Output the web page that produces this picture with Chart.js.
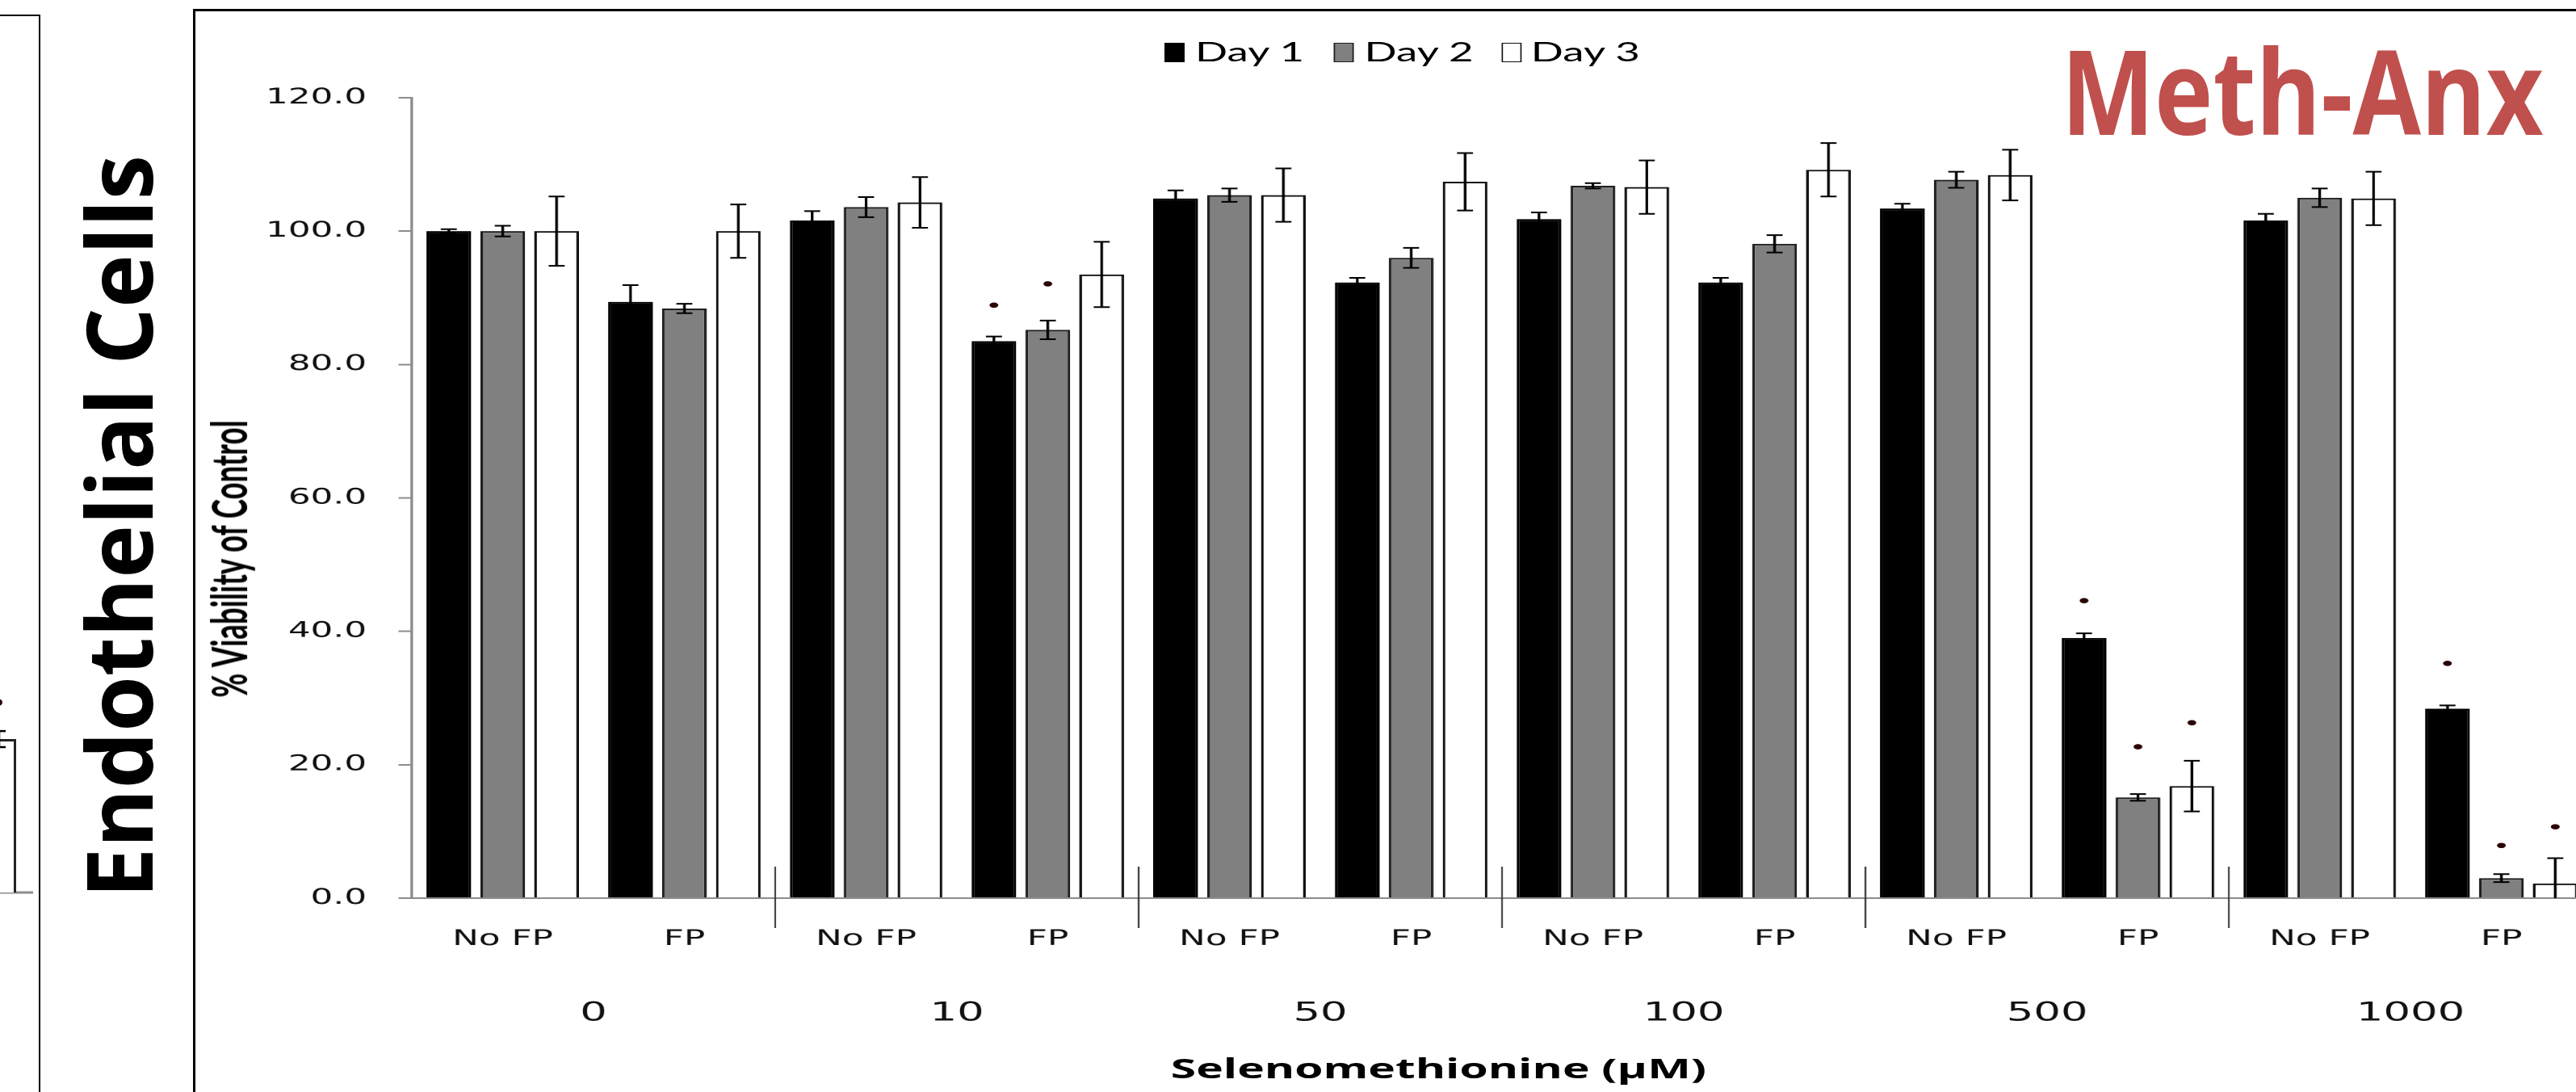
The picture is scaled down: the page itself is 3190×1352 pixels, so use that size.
<!DOCTYPE html>
<html>
<head>
<meta charset="utf-8">
<script src="https://cdn.jsdelivr.net/npm/chart.js@4.4.1/dist/chart.umd.min.js"></script>
<style>
html,body{margin:0;padding:0;width:3190px;height:1352px;overflow:hidden;background:#fff;}
#stage{position:relative;width:3190px;height:1352px;overflow:hidden;background:#fff;}
#leftFrame{position:absolute;left:-10px;top:18px;width:56px;height:1400px;border:2px solid #000;box-sizing:content-box;}
#frame{position:absolute;left:239px;top:11px;width:4000px;height:4000px;border:3px solid #000;}
#mini{position:absolute;left:-100px;top:0;width:141px;height:1352px;}
#endo{position:absolute;left:145px;top:652px;transform:translate(-50%,-50%) rotate(-90deg) scaleX(0.985);
  font-family:'Open Sans';font-weight:700;font-size:113px;line-height:1;white-space:nowrap;color:#000;}
#meth{position:absolute;left:2851px;top:110px;transform:translate(-50%,-50%) scaleX(0.845);
  font-family:'Open Sans';font-weight:700;font-size:145px;line-height:1;white-space:nowrap;color:#C0504D;}
#stretch{position:absolute;left:0;top:0;width:1960px;height:1352px;transform-origin:0 0;}
#main{position:absolute;left:0;top:0;width:1960px;height:1352px;}
.lbox{position:absolute;top:53px;width:15px;height:24px;box-sizing:border-box;}
.ltxt{position:absolute;top:48px;font-family:'Lato';font-size:32px;line-height:1;white-space:nowrap;color:#000;}
#ytitle{position:absolute;left:171.5px;top:692px;transform:translate(-50%,-50%) rotate(-90deg);
  font-family:'Lato';font-weight:700;font-size:36.5px;line-height:1;white-space:nowrap;color:#000;}
#xtitle{position:absolute;left:1079.7px;top:1322px;transform:translate(-50%,-50%);
  font-family:'Open Sans';font-weight:700;font-size:34.5px;line-height:1;white-space:nowrap;color:#000;}
</style>
</head>
<body>
<div id="stage">
  <div id="leftFrame"></div>
  <canvas id="mini" width="141" height="1352"></canvas>
  <div id="endo">Endothelial Cells</div>
  <div id="frame"></div>
  <div id="stretch">
    <canvas id="main" width="1960" height="1352"></canvas>
    <div id="legend"></div>
    <div id="ytitle"></div>
    <div id="xtitle"></div>
  </div>
  <div id="meth">Meth-Anx</div>
</div>
<script>
// ---------- data ----------
const STRETCH = 1.65;
const concentrations = ['0', '10', '50', '100', '500', '1000'];
const treatments = ['No FP', 'FP'];
const categories = ['No FP', 'FP', 'No FP', 'FP', 'No FP', 'FP', 'No FP', 'FP', 'No FP', 'FP', 'No FP', 'FP'];
const seriesNames = ['Day 1', 'Day 2', 'Day 3'];

const day1 = [100.0, 89.4, 101.6, 83.5, 104.9, 92.3, 101.8, 92.3, 103.4, 39.0, 101.6, 28.4];
const day1Err = [0.3, 2.5, 1.4, 0.7, 1.2, 0.7, 1.0, 0.7, 0.7, 0.7, 1.0, 0.5];
const day2 = [100.0, 88.4, 103.6, 85.2, 105.4, 96.0, 106.8, 98.1, 107.7, 15.1, 105.0, 3.0];
const day2Err = [0.8, 0.7, 1.5, 1.4, 1.0, 1.5, 0.4, 1.3, 1.2, 0.5, 1.4, 0.6];
const day3 = [100.0, 100.0, 104.3, 93.5, 105.4, 107.4, 106.6, 109.2, 108.4, 16.8, 104.9, 2.2];
const day3Err = [5.2, 4.0, 3.8, 4.9, 4.0, 4.3, 4.0, 4.0, 3.8, 3.8, 4.0, 3.8];

// significance marks (height at which the asterisk sits)
const day1Sig = [null, null, null, 88.9, null, null, null, null, null, 44.6, null, 35.2];
const day2Sig = [null, null, null, 92.1, null, null, null, null, null, 22.7, null, 7.9];
const day3Sig = [null, null, null, null, null, null, null, null, null, 26.3, null, 10.7];

const yMin = 0, yMax = 120, yStep = 20;
const yTitle = '% Viability of Control';
const xTitle = 'Selenomethionine (µM)';

// neighbouring panel fragment (left edge)
const leftCategories = [''];
const leftValues = [23.0];
const leftErr = [1.2];
const leftSig = [28.5];

const seriesFill = ['#000000', '#808080', '#ffffff'];
const seriesBorder = ['#000000', '#1e1e1e', '#111111'];

// ---------- plugins ----------
const barExtras = {
  id: 'barExtras',
  afterDatasetsDraw(chart) {
    const ctx = chart.ctx, ys = chart.scales.y, area = chart.chartArea;
    ctx.save();
    ctx.beginPath();
    ctx.rect(area.left - 50, area.top - 50, area.right - area.left + 100, area.bottom - area.top + 50);
    ctx.clip();
    chart.data.datasets.forEach((ds, i) => {
      const meta = chart.getDatasetMeta(i);
      meta.data.forEach((bar, j) => {
        const v = ds.data[j];
        const e = ds.errors ? ds.errors[j] : null;
        const cap = ds.capHalf || 6;
        if (e != null) {
          const yt = ys.getPixelForValue(v + e);
          const yb = ys.getPixelForValue(v - e);
          ctx.strokeStyle = '#000';
          ctx.lineWidth = ds.errWidth || 2;
          ctx.beginPath();
          ctx.moveTo(bar.x, yt); ctx.lineTo(bar.x, yb);
          ctx.moveTo(bar.x - cap, yt); ctx.lineTo(bar.x + cap, yt);
          ctx.moveTo(bar.x - cap, yb); ctx.lineTo(bar.x + cap, yb);
          ctx.stroke();
        }
        const s = ds.sig ? ds.sig[j] : null;
        if (s != null) {
          ctx.fillStyle = '#2a0404';
          ctx.beginPath();
          ctx.arc(bar.x, ys.getPixelForValue(s), ds.sigR || 3.3, 0, Math.PI * 2);
          ctx.fill();
        }
      });
    });
    ctx.restore();
  }
};

const groupDividers = {
  id: 'groupDividers',
  afterDraw(chart) {
    const ctx = chart.ctx, xs = chart.scales.x, ys = chart.scales.y;
    const y0 = ys.getPixelForValue(0);
    ctx.save();
    ctx.strokeStyle = '#3a3a3a';
    ctx.lineWidth = 1.3;
    for (let k = 1; k < concentrations.length; k++) {
      const idx = k * treatments.length;
      const xp = (xs.getPixelForValue(idx - 1) + xs.getPixelForValue(idx)) / 2;
      ctx.beginPath();
      ctx.moveTo(xp, y0 - 39);
      ctx.lineTo(xp, y0 + 37);
      ctx.stroke();
    }
    ctx.restore();
  }
};

// ---------- main chart ----------
document.getElementById('stretch').style.transform = 'scaleX(' + STRETCH + ')';
document.getElementById('ytitle').textContent = yTitle;
document.getElementById('xtitle').textContent = xTitle;

const errs = [day1Err, day2Err, day3Err];
const sigs = [day1Sig, day2Sig, day3Sig];
const vals = [day1, day2, day3];

new Chart(document.getElementById('main'), {
  type: 'bar',
  data: {
    labels: categories,
    datasets: seriesNames.map((name, i) => ({
      label: name,
      data: vals[i],
      errors: errs[i],
      sig: sigs[i],
      backgroundColor: seriesFill[i],
      borderColor: seriesBorder[i],
      borderWidth: 2,
      categoryPercentage: 0.89,
      barPercentage: 0.83,
      xAxisID: 'x',
      yAxisID: 'y'
    }))
  },
  options: {
    responsive: false,
    devicePixelRatio: 2,
    animation: false,
    layout: { padding: { top: 121, left: 0, right: 14.5, bottom: 0 } },
    plugins: { legend: { display: false }, tooltip: { enabled: false }, title: { display: false } },
    scales: {
      y: {
        min: yMin, max: yMax,
        ticks: {
          stepSize: yStep,
          callback: v => Number(v).toFixed(1),
          font: { family: "'DejaVu Sans'", size: 26.5 },
          color: '#111',
          padding: 23.9
        },
        grid: { drawOnChartArea: false, drawTicks: true, tickLength: 10, color: '#8c8c8c', lineWidth: 2 },
        border: { display: true, color: '#8c8c8c', width: 2 },
        title: { display: false },
        afterFit(s) { s.width = 309.1; }
      },
      x: {
        type: 'category',
        offset: true,
        weight: 0,
        grid: { display: false, drawTicks: false },
        border: { display: true, color: '#8c8c8c', width: 2 },
        ticks: { font: { family: "'DejaVu Sans'", size: 26.5 }, color: '#111', padding: 35, autoSkip: false, maxRotation: 0 },
        afterFit(s) { s.height = 88; }
      },
      x2: {
        type: 'category',
        position: 'bottom',
        labels: concentrations,
        offset: true,
        weight: 1,
        grid: { display: false, drawTicks: false },
        border: { display: false },
        ticks: { font: { family: "'DejaVu Sans'", size: 32 }, color: '#111', padding: 35.8, autoSkip: false, maxRotation: 0 },
        title: { display: false },
        afterFit(s) { s.height = 152; }
      }
    }
  },
  plugins: [barExtras, groupDividers]
});

// ---------- legend (inside the stretched chart graphic) ----------
(function buildLegend() {
  const lg = document.getElementById('legend');
  const boxX = [874, 1001, 1127];
  const txtX = [897, 1024, 1149];
  seriesNames.forEach((name, i) => {
    const b = document.createElement('div');
    b.className = 'lbox';
    b.style.left = boxX[i] + 'px';
    b.style.background = seriesFill[i];
    b.style.border = '1.5px solid ' + seriesBorder[i];
    lg.appendChild(b);
    const t = document.createElement('div');
    t.className = 'ltxt';
    t.style.left = txtX[i] + 'px';
    t.textContent = name;
    lg.appendChild(t);
  });
})();

// ---------- neighbouring panel fragment ----------
new Chart(document.getElementById('mini'), {
  type: 'bar',
  data: {
    labels: leftCategories,
    datasets: [{
      data: leftValues, errors: leftErr, sig: leftSig, capHalf: 8, errWidth: 2.5, sigR: 4,
      backgroundColor: '#ffffff', borderColor: '#222', borderWidth: 3,
      categoryPercentage: 1, barPercentage: 0.5
    }]
  },
  options: {
    responsive: false,
    devicePixelRatio: 2,
    animation: false,
    layout: { padding: { top: 114, left: 57, right: 0, bottom: 247 } },
    plugins: { legend: { display: false }, tooltip: { enabled: false } },
    scales: {
      y: { display: false, min: yMin, max: yMax },
      x: {
        offset: true,
        grid: { display: false, drawTicks: false },
        border: { display: true, color: '#8c8c8c', width: 3 },
        ticks: { display: false },
        afterFit(s) { s.height = 0; }
      }
    }
  },
  plugins: [barExtras]
});
</script>
</body>
</html>
